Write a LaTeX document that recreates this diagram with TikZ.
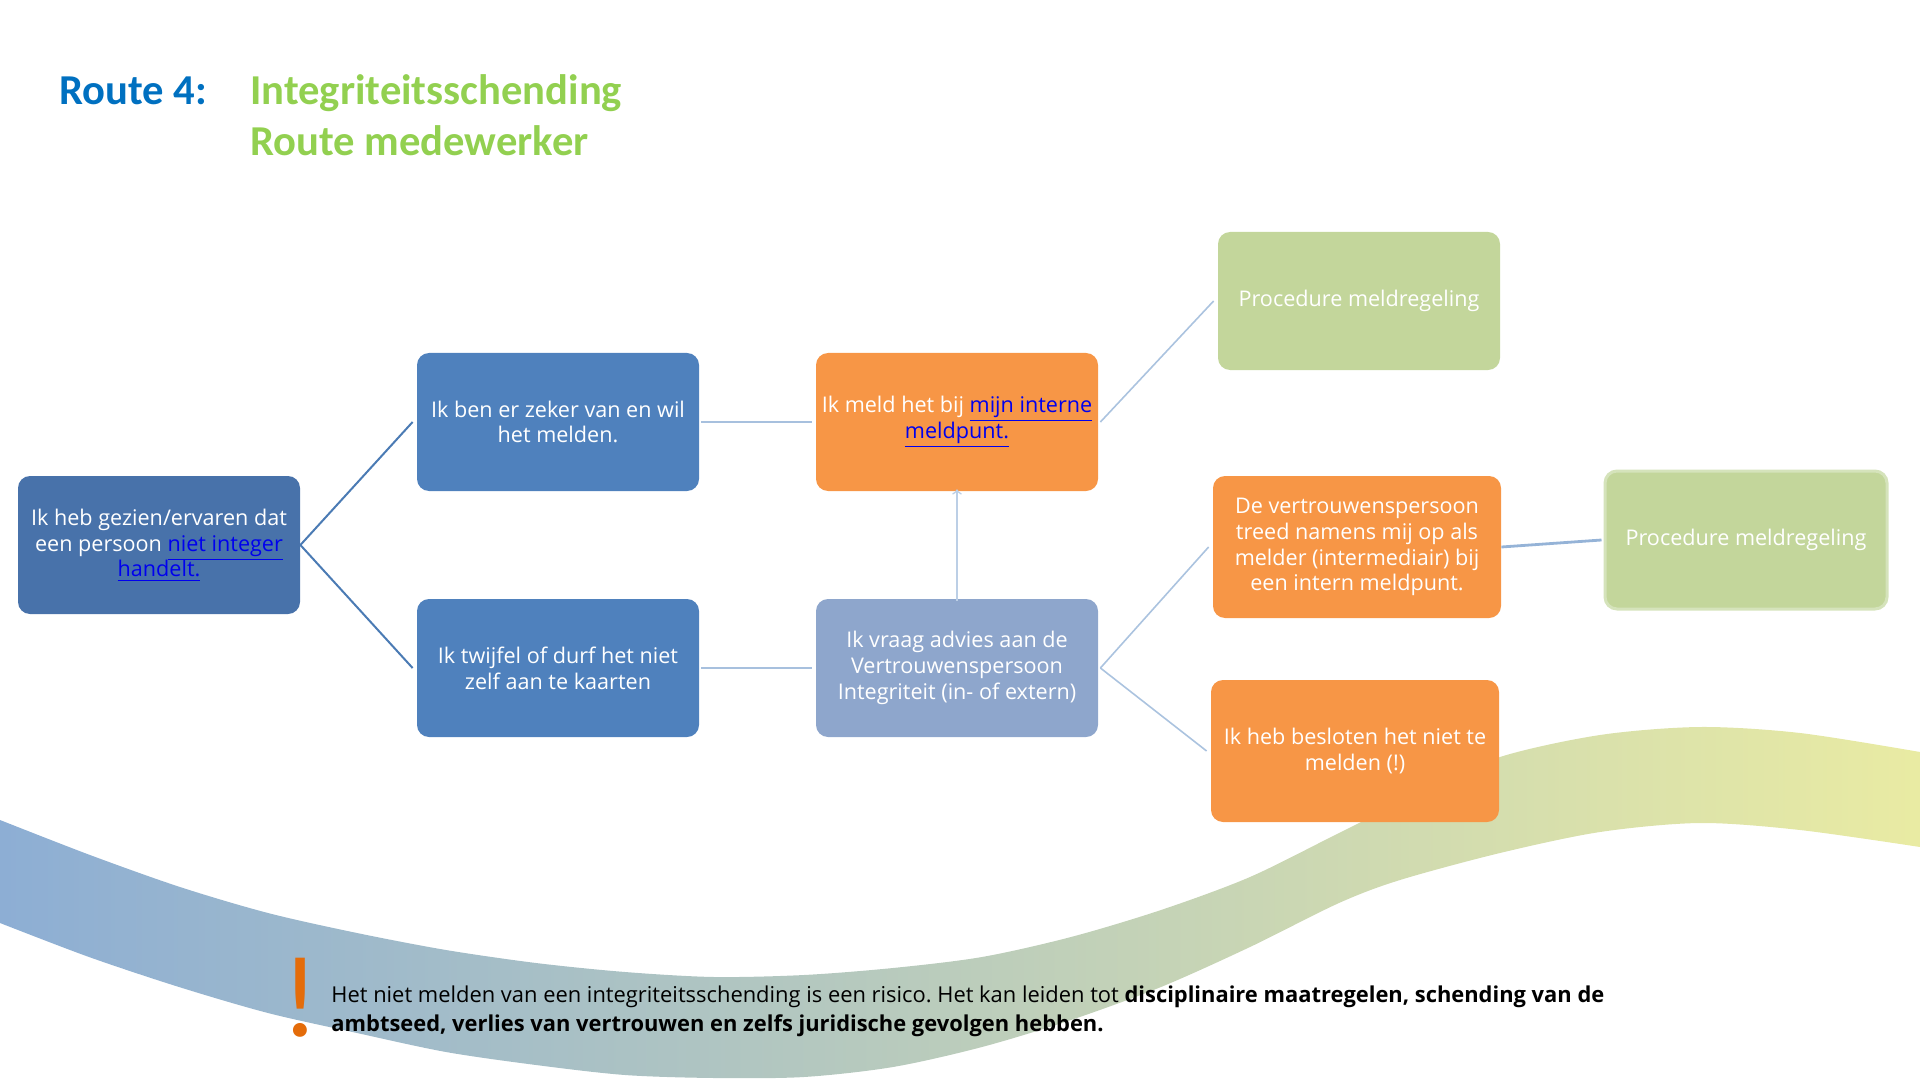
\documentclass[tikz,border=0pt]{standalone}
\usepackage{fontspec}
\setmainfont{Open Sans}
\newfontfamily\titlefont{Carlito}
\frenchspacing
\definecolor{routeblue}{HTML}{0070C0}
\definecolor{routegreen}{HTML}{92D050}
\definecolor{startblue}{HTML}{4872AA}
\definecolor{stepblue}{HTML}{4F81BD}
\definecolor{adviceblue}{HTML}{8EA6CC}
\definecolor{meldorange}{HTML}{F79646}
\definecolor{procgreen}{HTML}{C3D69B}
\definecolor{procedge}{HTML}{D5E3BB}
\definecolor{linkblue}{HTML}{0000EE}
\definecolor{warnorange}{HTML}{E46C0A}
\definecolor{bandleft}{HTML}{8DAED4}
\definecolor{bandmid}{HTML}{C4CCCA}
\definecolor{bandright}{HTML}{E9EBA3}
\newcommand{\meldlink}[1]{\textcolor{linkblue}{\underline{#1}}}
\begin{document}
\begin{tikzpicture}[x=0.5pt,y=-0.5pt,
    routebox/.style={rounded corners=6pt,minimum width=141pt,minimum height=69pt,
      inner sep=2pt,align=center,text=white,font=\fontsize{10.8}{12.9}\selectfont},
    startline/.style={draw=stepblue!95!black,line width=1pt},
    midline/.style={draw=stepblue!50,line width=1.4pt},
    thinline/.style={draw=stepblue!48,line width=0.8pt}]
  \useasboundingbox (0,0) rectangle (1920,1080);
  % Band
  \shade[left color=bandleft,middle color=bandmid,right color=bandright]
    plot[smooth] coordinates {(0,820) (90,855) (180,887) (268,913) (357,933) (446,950)
      (536,963) (625,972) (714,977) (804,975) (893,968) (982,957) (1071,937) (1161,910)
      (1250,877) (1339,833) (1420,793) (1500,757) (1600,735) (1700,727) (1800,733) (1920,752)}
    -- plot[smooth] coordinates {(1920,847) (1800,830) (1700,823) (1600,832) (1500,853)
      (1400,880) (1339,903) (1250,947) (1161,987) (1071,1020) (982,1047) (893,1067)
      (804,1077) (714,1078) (625,1075) (536,1065) (446,1052) (357,1033) (268,1013)
      (179,987) (89,957) (0,923)} -- cycle;
  % Title
  \node (route) [anchor=base west,inner sep=0,text=routeblue,
    font=\titlefont\bfseries\fontsize{21.3}{25.7}\selectfont] at (59,105) {Route 4:};
  \node (title) [anchor=base west,inner sep=0,text=routegreen,
    font=\titlefont\bfseries\fontsize{21.3}{25.7}\selectfont] at (250,105) {Integriteitsschending};
  \node (subtitle) [anchor=base west,inner sep=0,text=routegreen,
    font=\titlefont\bfseries\fontsize{21.3}{25.7}\selectfont] at (250,156) {Route medewerker};
  % Boxes
  \node (seen) [routebox,fill=startblue] at (159,545)
    {Ik heb gezien/ervaren dat\\een persoon \meldlink{niet integer}\\\meldlink{handelt.}};
  \node (sure) [routebox,fill=stepblue] at (558,422) {Ik ben er zeker van en wil\\het melden.};
  \node (doubt) [routebox,fill=stepblue] at (558,668) {Ik twijfel of durf het niet\\zelf aan te kaarten};
  \node (report) [routebox,fill=meldorange] at (957,422)
    {Ik meld het bij \meldlink{mijn interne}\\\meldlink{meldpunt.}};
  \node (advice) [routebox,fill=adviceblue] at (957,668)
    {Ik vraag advies aan de\\Vertrouwenspersoon\\Integriteit (in- of extern)};
  \node (proc1) [routebox,fill=procgreen] at (1359,301) {Procedure meldregeling};
  \node (proxy) [routebox,fill=meldorange,minimum width=144pt,minimum height=71pt] at (1357,547)
    {De vertrouwenspersoon\\treed namens mij op als\\melder (intermediair) bij\\een intern meldpunt.};
  \node (silent) [routebox,fill=meldorange,minimum width=144pt,minimum height=71pt] at (1355,751)
    {Ik heb besloten het niet te\\melden (!)};
  \node (proc2) [routebox,fill=procgreen,draw=procedge,line width=1.5pt] at (1746,540)
    {Procedure meldregeling};
  % Connectors
  \draw [startline] (seen.east) -- ([xshift=-2pt]sure.west);
  \draw [startline] (seen.east) -- ([xshift=-2pt]doubt.west);
  \draw [midline] ([xshift=1pt]sure.east) -- ([xshift=-2pt]report.west);
  \draw [midline] ([xshift=1pt]doubt.east) -- ([xshift=-2pt]advice.west);
  \draw [thinline,draw=stepblue!38] [->] ([yshift=-1pt]advice.north) -- ([yshift=1pt]report.south);
  \draw [thinline] ([xshift=1pt]report.east) -- ([xshift=-2pt]proc1.west);
  \draw [thinline] ([xshift=1pt]advice.east) -- ([xshift=-2pt]proxy.west);
  \draw [thinline] ([xshift=1pt]advice.east) -- ([xshift=-2pt]silent.west);
  \draw [midline,draw=stepblue!60] (proxy.east) -- ([xshift=-1pt]proc2.west);
  % Warning
  \node (bang) [inner sep=0,text=warnorange,font=\titlefont\fontsize{58}{58}\selectfont]
    at (300,998) {!};
  \node (warning) [anchor=north west,inner sep=0,align=left,
    font=\fontsize{10.95}{14.7}\selectfont] at (331,985)
    {Het niet melden van een integriteitsschending is een risico. Het kan leiden tot \textbf{disciplinaire maatregelen, schending van de}\\
     \textbf{ambtseed, verlies van vertrouwen en zelfs juridische gevolgen hebben.}};
\end{tikzpicture}
\end{document}
